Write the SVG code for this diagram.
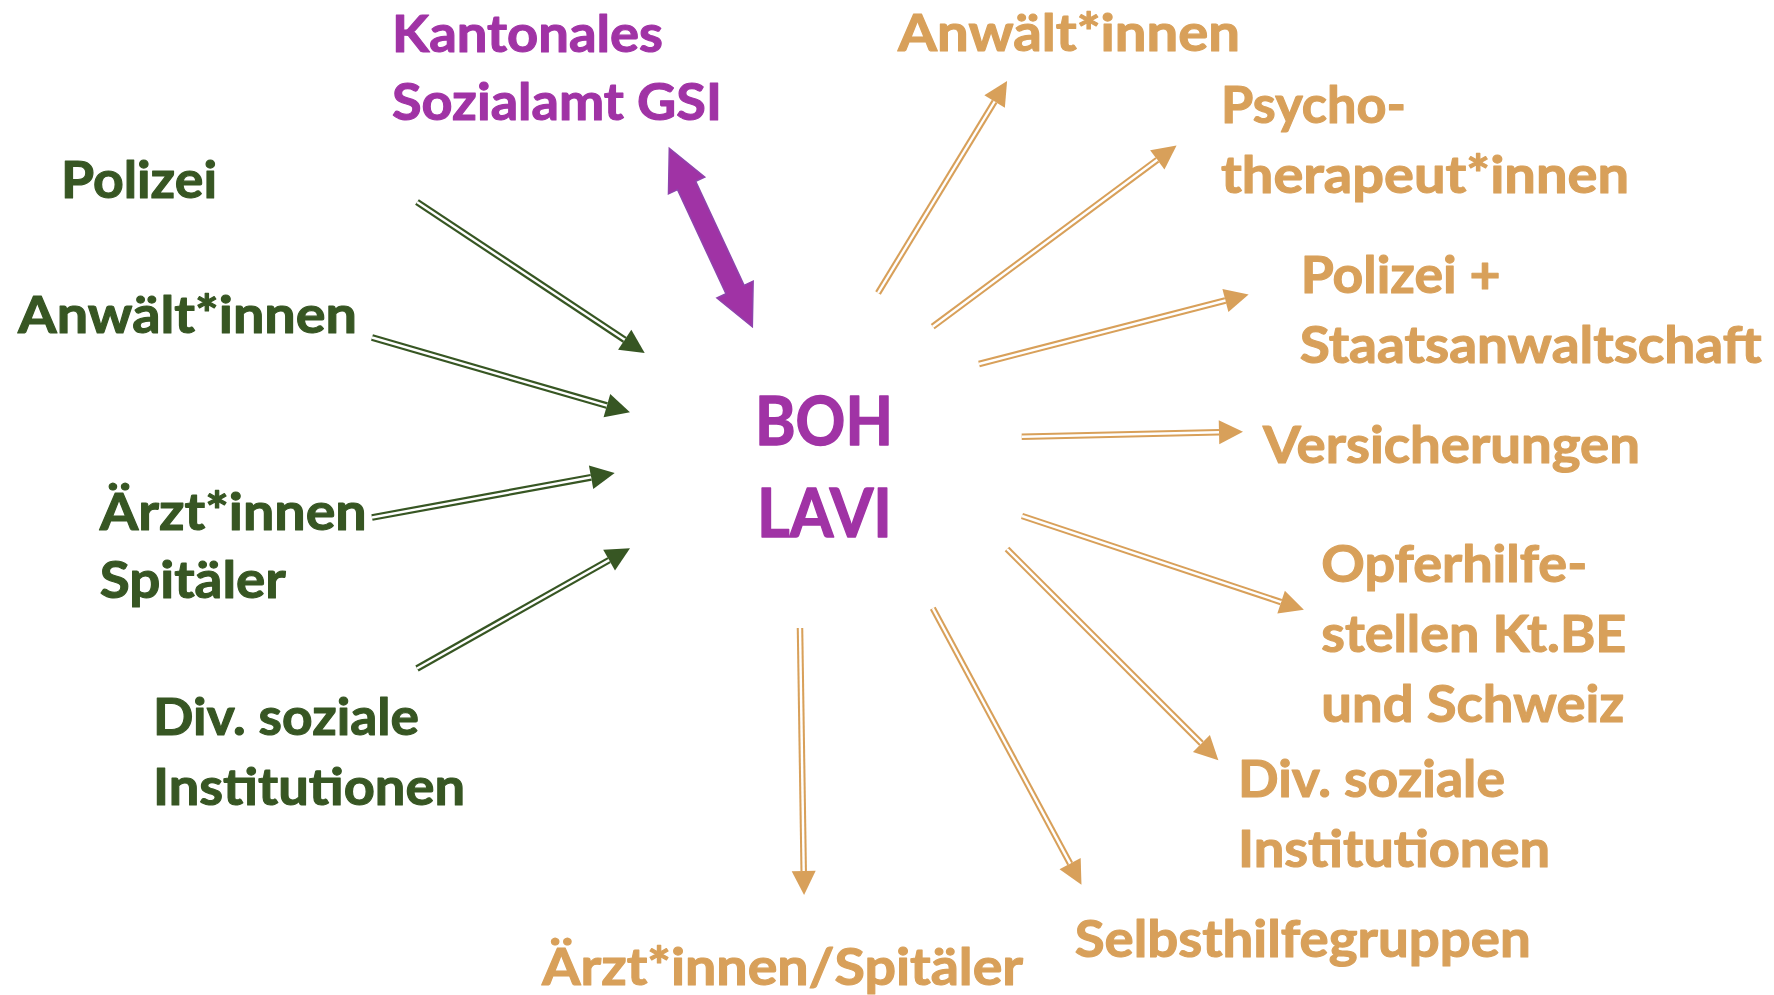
<svg xmlns="http://www.w3.org/2000/svg" width="1774" height="995" viewBox="0 0 1774 995">
<style>
.t{font-family:Lato,"Open Sans","Liberation Sans",sans-serif;font-weight:700;font-size:51px;stroke-width:1.1px;stroke-linejoin:round}
.big{font-size:66px;stroke-width:1.4px}
.g{fill:#375623;stroke:#375623}
.o{fill:#D8A05A;stroke:#D8A05A}
.p{fill:#A033A5;stroke:#A033A5}
.gl{stroke:#375623;stroke-width:6.8;fill:none}
.ol{stroke:#D8A05A;stroke-width:6.5;fill:none}
.wl{stroke:#FFFFFF;stroke-width:2.4;fill:none}
</style>
<defs>
<marker id="hg" markerUnits="userSpaceOnUse" markerWidth="24" markerHeight="24" viewBox="0 0 22 22" refX="0" refY="11" orient="auto" overflow="visible">
<path d="M0,0 L22,11 L0,22 z" fill="#375623"/>
</marker>
<marker id="ho" markerUnits="userSpaceOnUse" markerWidth="24" markerHeight="24" viewBox="0 0 22 22" refX="0" refY="11" orient="auto" overflow="visible">
<path d="M0,0 L22,11 L0,22 z" fill="#D8A05A"/>
</marker>
</defs>
<rect width="1774" height="995" fill="#FFFFFF"/>

<g id="connectors">
<g id="c-gsi">
<polygon points="0,0 41,-20 41,-10 155.8,-10 155.8,-20 196.8,0 155.8,20 155.8,10 41,10 41,20" transform="translate(669.3,148.3) rotate(65.05)" fill="#A033A5" stroke="#8E44AD" stroke-width="1.5" stroke-linejoin="miter"/>
</g>
<g id="c-g1"><line class="gl" x1="417" y1="202" x2="624.7" y2="339.8" marker-end="url(#hg)"/><line class="wl" x1="417" y1="202" x2="624.7" y2="339.8"/></g>
<g id="c-g2"><line class="gl" x1="372" y1="337.5" x2="606.9" y2="405.6" marker-end="url(#hg)"/><line class="wl" x1="372" y1="337.5" x2="606.9" y2="405.6"/></g>
<g id="c-g3"><line class="gl" x1="372" y1="517.5" x2="591.1" y2="477.3" marker-end="url(#hg)"/><line class="wl" x1="372" y1="517.5" x2="591.1" y2="477.3"/></g>
<g id="c-g4"><line class="gl" x1="417" y1="668.5" x2="609.1" y2="560.1" marker-end="url(#hg)"/><line class="wl" x1="417" y1="668.5" x2="609.1" y2="560.1"/></g>

<g id="c-o1"><line class="ol" x1="878" y1="293" x2="994.6" y2="101.5" marker-end="url(#ho)"/><line class="wl" x1="878" y1="293" x2="994.6" y2="101.5"/></g>
<g id="c-o2"><line class="ol" x1="932.7" y1="326.7" x2="1157.3" y2="159.8" marker-end="url(#ho)"/><line class="wl" x1="932.7" y1="326.7" x2="1157.3" y2="159.8"/></g>
<g id="c-o3"><line class="ol" x1="979" y1="364" x2="1225.4" y2="300.5" marker-end="url(#ho)"/><line class="wl" x1="979" y1="364" x2="1225.4" y2="300.5"/></g>
<g id="c-o4"><line class="ol" x1="1021.7" y1="436.7" x2="1219" y2="432.2" marker-end="url(#ho)"/><line class="wl" x1="1021.7" y1="436.7" x2="1219" y2="432.2"/></g>
<g id="c-o5"><line class="ol" x1="1022" y1="516" x2="1281.1" y2="602.1" marker-end="url(#ho)"/><line class="wl" x1="1022" y1="516" x2="1281.1" y2="602.1"/></g>
<g id="c-o6"><line class="ol" x1="1007" y1="549" x2="1201.4" y2="743.4" marker-end="url(#ho)"/><line class="wl" x1="1007" y1="549" x2="1201.4" y2="743.4"/></g>
<g id="c-o7"><line class="ol" x1="932.8" y1="608.3" x2="1070.1" y2="863.6" marker-end="url(#ho)"/><line class="wl" x1="932.8" y1="608.3" x2="1070.1" y2="863.6"/></g>
<g id="c-o8"><line class="ol" x1="800" y1="628" x2="803.7" y2="871" marker-end="url(#ho)"/><line class="wl" x1="800" y1="628" x2="803.7" y2="871"/></g>
</g>

<g id="n-center">
<text class="t big p" x="755" y="445" textLength="138" lengthAdjust="spacingAndGlyphs">BOH</text>
<text class="t big p" x="757" y="536.5" textLength="135" lengthAdjust="spacingAndGlyphs">LAVI</text>
</g>
<g id="n-gsi">
<text class="t p" x="392" y="51.5" textLength="271" lengthAdjust="spacingAndGlyphs">Kantonales</text>
<text class="t p" x="392" y="120" textLength="330" lengthAdjust="spacingAndGlyphs">Sozialamt GSI</text>
</g>

<g id="n-g-polizei"><text class="t g" x="61" y="198.3" textLength="156" lengthAdjust="spacingAndGlyphs">Polizei</text></g>
<g id="n-g-anwaelte"><text class="t g" x="18" y="333.3" textLength="339" lengthAdjust="spacingAndGlyphs">Anwält*innen</text></g>
<g id="n-g-aerzte">
<text class="t g" x="99.7" y="530" textLength="267" lengthAdjust="spacingAndGlyphs">Ärzt*innen</text>
<text class="t g" x="99.7" y="598.3" textLength="186" lengthAdjust="spacingAndGlyphs">Spitäler</text>
</g>
<g id="n-g-div">
<text class="t g" x="153" y="735" textLength="266" lengthAdjust="spacingAndGlyphs">Div. soziale</text>
<text class="t g" x="153" y="805" textLength="312" lengthAdjust="spacingAndGlyphs">Institutionen</text>
</g>

<g id="n-o-anwaelte"><text class="t o" x="898" y="50.7" textLength="342" lengthAdjust="spacingAndGlyphs">Anwält*innen</text></g>
<g id="n-o-psycho">
<text class="t o" x="1221" y="123.3" textLength="185" lengthAdjust="spacingAndGlyphs">Psycho-</text>
<text class="t o" x="1221" y="193" textLength="408" lengthAdjust="spacingAndGlyphs">therapeut*innen</text>
</g>
<g id="n-o-polizei">
<text class="t o" x="1300.7" y="293.3" textLength="200" lengthAdjust="spacingAndGlyphs">Polizei +</text>
<text class="t o" x="1299.7" y="363.3" textLength="462" lengthAdjust="spacingAndGlyphs">Staatsanwaltschaft</text>
</g>
<g id="n-o-vers"><text class="t o" x="1263" y="463.3" textLength="377" lengthAdjust="spacingAndGlyphs">Versicherungen</text></g>
<g id="n-o-opfer">
<text class="t o" x="1321.3" y="581.7" textLength="266" lengthAdjust="spacingAndGlyphs">Opferhilfe-</text>
<text class="t o" x="1321.3" y="651.7" textLength="305" lengthAdjust="spacingAndGlyphs">stellen Kt.BE</text>
<text class="t o" x="1321.3" y="721.7" textLength="303" lengthAdjust="spacingAndGlyphs">und Schweiz</text>
</g>
<g id="n-o-div">
<text class="t o" x="1238" y="796.7" textLength="267" lengthAdjust="spacingAndGlyphs">Div. soziale</text>
<text class="t o" x="1238" y="866.7" textLength="312" lengthAdjust="spacingAndGlyphs">Institutionen</text>
</g>
<g id="n-o-selbst"><text class="t o" x="1074.7" y="956.7" textLength="456" lengthAdjust="spacingAndGlyphs">Selbsthilfegruppen</text></g>
<g id="n-o-aerzte"><text class="t o" x="542" y="985" textLength="481" lengthAdjust="spacingAndGlyphs">Ärzt*innen/Spitäler</text></g>
</svg>
